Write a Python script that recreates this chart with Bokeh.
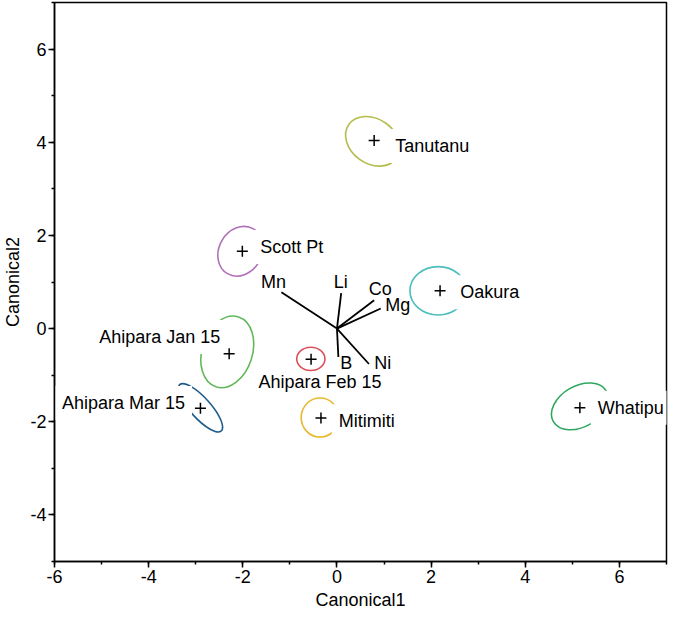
from bokeh.plotting import figure
from bokeh.models import SingleIntervalTicker, Range1d, ColumnDataSource, CustomJSTickFormatter
from bokeh.core.properties import value
from bokeh.embed import file_html
from bokeh.resources import INLINE
import numpy as np

# Group means (canonical scores)
groups = ["Tanutanu", "Scott Pt", "Oakura", "Ahipara Jan 15", "Ahipara Feb 15",
          "Ahipara Mar 15", "Mitimiti", "Whatipu"]
mean_x = [0.79, -2.01, 2.19, -2.29, -0.55, -2.90, -0.34, 5.16]
mean_y = [4.04, 1.66, 0.81, -0.54, -0.66, -1.71, -1.92, -1.70]
# Confidence ellipse shapes
ell_x = [0.76, -2.05, 2.15, -2.33, -0.555, -2.90, -0.36, 5.16]
ell_y = [4.02, 1.66, 0.81, -0.50, -0.65, -1.70, -1.91, -1.67]
ell_a = [0.62, 0.55, 0.60, 0.78, 0.30, 0.66, 0.40, 0.65]
ell_b = [0.48, 0.46, 0.52, 0.54, 0.25, 0.22, 0.42, 0.44]
ell_deg = [-35, 60, 0, 72, 0, -48, 0, 30]
colors = ["#b4bc4c", "#b070b8", "#4dbdbd", "#62b85a", "#d9505a",
          "#1f5c8c", "#e8b830", "#2ea860"]
# Label positions
lab_x = [1.09, -1.78, 2.47, -2.33, -0.36, -3.08, -0.11, 5.39]
lab_y = [3.92, 1.75, 0.78, -0.18, -1.15, -1.60, -1.99, -1.70]
lab_anchor = ["center_left", "center_left", "center_left", "center_right",
              "center", "center_right", "center_left", "center_left"]
lab_mask = [True, True, True, True, False, True, True, True]

# Biplot rays
rays = ["Mn", "Li", "Co", "Mg", "B", "Ni"]
ray_x = [-1.18, 0.09, 0.79, 0.93, 0.03, 0.68]
ray_y = [0.78, 0.76, 0.61, 0.43, -0.61, -0.76]
ray_lab_x = [-1.35, 0.08, 0.92, 1.29, 0.20, 0.97]
ray_lab_y = [1.01, 0.99, 0.85, 0.51, -0.73, -0.73]

FONT = "Liberation Sans"

p = figure(width=669, height=612, output_backend="svg", toolbar_location=None,
           x_range=Range1d(-6, 7), y_range=Range1d(-5, 7),
           min_border_left=0, min_border_right=3, min_border_top=2, min_border_bottom=0)
p.grid.visible = False
p.outline_line_color = "black"
p.outline_line_width = 1.5
p.background_fill_color = "white"
p.border_fill_color = "white"

for ax in (p.xaxis[0], p.yaxis[0]):
    ax.ticker = SingleIntervalTicker(interval=2, num_minor_ticks=2)
    ax.formatter = CustomJSTickFormatter(code="return tick.toString();")
    ax.axis_line_width = 1.5
    ax.axis_line_color = "black"
    ax.major_tick_in = 0
    ax.major_tick_out = 6
    ax.minor_tick_in = 0
    ax.minor_tick_out = 3
    ax.major_tick_line_width = 1.5
    ax.minor_tick_line_width = 1.5
    ax.major_label_text_font = FONT
    ax.major_label_text_font_size = "18px"
    ax.major_label_text_color = "black"
    ax.axis_label_text_font = FONT
    ax.axis_label_text_font_size = "18px"
    ax.axis_label_text_font_style = "normal"
    ax.axis_label_text_color = "black"
    ax.major_label_standoff = 2
    ax.axis_label_standoff = 4
p.xaxis.axis_label = "Canonical1"
p.yaxis.axis_label = "Canonical2"

esrc = ColumnDataSource(dict(x=ell_x, y=ell_y, w=[2 * a for a in ell_a],
                             h=[2 * b for b in ell_b],
                             ang=[np.deg2rad(d) for d in ell_deg], c=colors))
p.ellipse(x="x", y="y", width="w", height="h", angle="ang", source=esrc,
          fill_color=None, line_color="c", line_width=1.6)


def subset(flag):
    idx = [i for i, m in enumerate(lab_mask) if m == flag]
    return ColumnDataSource(dict(x=[lab_x[i] for i in idx], y=[lab_y[i] for i in idx],
                                 t=[groups[i] for i in idx], anc=[lab_anchor[i] for i in idx]))


p.text(x="x", y="y", text="t", anchor="anc", source=subset(True),
       text_font=value(FONT), text_font_size="18px", text_color="black",
       background_fill_color="white", padding=7)
p.text(x="x", y="y", text="t", anchor="anc", source=subset(False),
       text_font=value(FONT), text_font_size="18px", text_color="black")

p.scatter(mean_x, mean_y, marker="cross", size=11, line_color="black", line_width=1.5)

n = len(rays)
p.segment(x0=[0.0] * n, y0=[0.0] * n, x1=ray_x, y1=ray_y, line_color="black", line_width=1.8)
p.text(x=ray_lab_x, y=ray_lab_y, text=rays, anchor="center",
       text_font=value(FONT), text_font_size="18px", text_color="black")

open("out.html", "w").write(file_html(p, INLINE))
